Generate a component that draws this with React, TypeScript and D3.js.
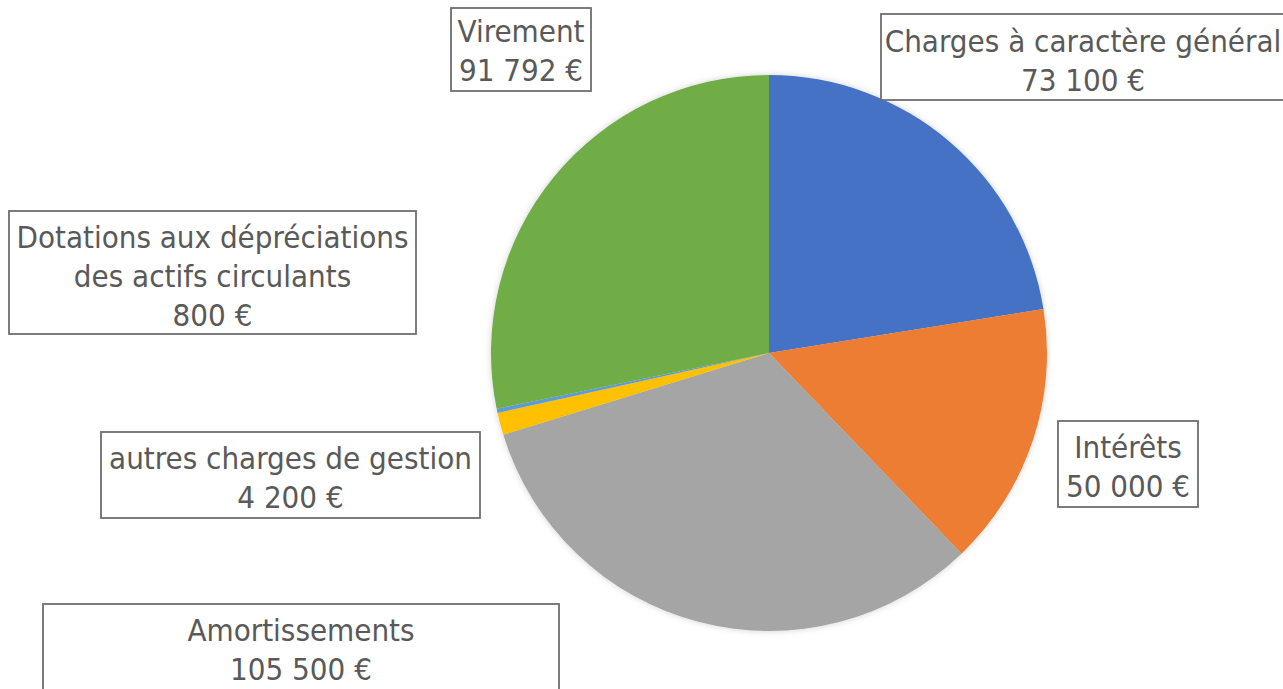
import * as d3 from "d3";

// slices, clockwise from 12 o'clock
const categories = [
  "Charges à caractère général",
  "Intérêts",
  "Amortissements",
  "autres charges de gestion",
  "Dotations aux dépréciations des actifs circulants",
  "Virement",
];
const amounts = [73100, 50000, 105500, 4200, 800, 91792];
const sliceColors = ["#4472C4", "#ED7D31", "#A5A5A5", "#FFC000", "#5B9BD5", "#70AD47"];

// label text lines (name lines, then value)
const labelLines = [
  ["Charges à caractère général"],
  ["Intérêts"],
  ["Amortissements"],
  ["autres charges de gestion"],
  ["Dotations aux dépréciations", "des actifs circulants"],
  ["Virement"],
];

// label boxes as they were dragged in the original: [x, y, w, h, textCx, firstBaseline]
const labelBoxes = [
  [881, 14, 420, 86, 1083, 52],
  [1058, 421, 140, 86, 1128, 458],
  [43, 604, 516, 120, 301, 641],
  [101, 432, 379, 86, 290.5, 469],
  [9, 211, 407, 123, 212.5, 248],
  [451, 8, 140, 83, 521, 42],
];

const W = 1283;
const H = 689;
const cx = 769;
const cy = 353;
const radius = 278;
const lineH = 39;

const fmt = (v: number) => d3.format(",")(v).replace(/,/g, " ") + " €";

export default function App() {
  const pie = d3
    .pie<number>()
    .value((d) => d)
    .sort(null);
  const arcs = pie(amounts);
  const arc = d3.arc<d3.PieArcDatum<number>>().innerRadius(0).outerRadius(radius);

  return (
    <svg
      width={W}
      height={H}
      style={{ position: "absolute", left: 0, top: 0, background: "#fff" }}
    >
      <defs>
        <filter id="soft" x="-10%" y="-10%" width="120%" height="120%">
          <feDropShadow dx="0" dy="0" stdDeviation="3" floodColor="#000" floodOpacity="0.18" />
        </filter>
      </defs>
      <g transform={`translate(${cx},${cy})`} filter="url(#soft)">
        {arcs.map((a, i) => (
          <path key={categories[i]} d={arc(a) || ""} fill={sliceColors[i]} />
        ))}
      </g>
      {labelBoxes.map((b, i) => {
        const [x, y, w, h, tx, ty] = b;
        const lines = [...labelLines[i], fmt(amounts[i])];
        return (
          <g key={i}>
            <rect x={x} y={y} width={w} height={h} fill="#fff" stroke="#6e6e6e" strokeWidth={1.8} />
            <text
              textAnchor="middle"
              fontFamily="'DejaVu Sans Condensed', 'DejaVu Sans', sans-serif"
              fontSize={31}
              fill="#595959"
            >
              {lines.map((l, j) => (
                <tspan key={j} x={tx} y={ty + j * lineH}>
                  {l}
                </tspan>
              ))}
            </text>
          </g>
        );
      })}
    </svg>
  );
}
